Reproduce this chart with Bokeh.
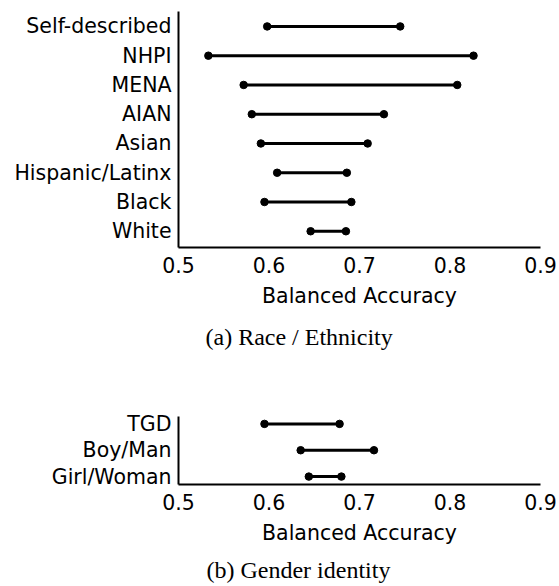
from bokeh.plotting import figure
from bokeh.layouts import column
from bokeh.models import FixedTicker, Range1d, ColumnDataSource, Title
from bokeh.embed import file_html
from bokeh.resources import INLINE

# ---- data ----
race_groups = ["White", "Black", "Hispanic/Latinx", "Asian", "AIAN", "MENA", "NHPI", "Self-described"]
race_low = [0.646, 0.595, 0.609, 0.591, 0.581, 0.572, 0.533, 0.598]
race_high = [0.685, 0.691, 0.686, 0.709, 0.727, 0.808, 0.826, 0.745]

gender_groups = ["Girl/Woman", "Boy/Man", "TGD"]
gender_low = [0.644, 0.635, 0.595]
gender_high = [0.680, 0.716, 0.678]

x_ticks = [0.5, 0.6, 0.7, 0.8, 0.9]
x_label = "Balanced Accuracy"
caption_a = "(a) Race / Ethnicity"
caption_b = "(b) Gender identity"

SANS = "DejaVu Sans"
SERIF = "Liberation Serif"
FS = "20.5px"


def caption_title(text, offset, standoff):
    return Title(text=text, align="left", offset=offset, standoff=standoff,
                 text_font=SERIF, text_font_size="24px", text_font_style="normal",
                 text_color="black")


def make_panel(groups, low, high, height, border_top, border_left,
               border_bottom, y_pad_lo, y_pad_hi):
    pos = list(range(len(groups)))
    src = ColumnDataSource(dict(pos=pos, low=low, high=high))
    p = figure(width=559, height=height, output_backend="svg", toolbar_location=None,
               x_range=Range1d(0.5, 0.9),
               y_range=Range1d(-y_pad_lo, len(groups) - 1 + y_pad_hi),
               min_border_top=border_top, min_border_left=border_left,
               min_border_right=19, min_border_bottom=border_bottom)
    p.outline_line_color = None
    p.grid.visible = False
    p.background_fill_color = "white"
    p.border_fill_color = "white"

    p.segment(x0="low", y0="pos", x1="high", y1="pos", source=src,
              line_color="black", line_width=3)
    p.scatter(x="low", y="pos", source=src, size=7.5, color="black")
    p.scatter(x="high", y="pos", source=src, size=7.5, color="black")

    # x axis
    xa = p.xaxis[0]
    xa.ticker = FixedTicker(ticks=x_ticks)
    xa.major_tick_out = 0
    xa.major_tick_in = 0
    xa.minor_tick_out = 0
    xa.minor_tick_in = 0
    xa.axis_line_width = 2
    xa.axis_line_color = "black"
    xa.major_label_text_font = SANS
    xa.major_label_text_font_size = FS
    xa.major_label_text_color = "black"
    xa.major_label_standoff = 9
    xa.axis_label = x_label
    xa.axis_label_text_font = SANS
    xa.axis_label_text_font_size = FS
    xa.axis_label_text_font_style = "normal"
    xa.axis_label_text_color = "black"
    xa.axis_label_standoff = 8

    # y axis
    ya = p.yaxis[0]
    ya.ticker = FixedTicker(ticks=pos)
    ya.major_label_overrides = {i: g for i, g in zip(pos, groups)}
    ya.major_tick_out = 0
    ya.major_tick_in = 0
    ya.minor_tick_out = 0
    ya.minor_tick_in = 0
    ya.axis_line_width = 2
    ya.axis_line_color = "black"
    ya.major_label_text_font = SANS
    ya.major_label_text_font_size = FS
    ya.major_label_text_color = "black"
    ya.major_label_standoff = 7
    return p


p1 = make_panel(race_groups, race_low, race_high,
                height=360, border_top=11, border_left=176, border_bottom=112,
                y_pad_lo=0.555, y_pad_hi=0.51)
p1.add_layout(caption_title(caption_a, 27, 22), "below")

p2 = make_panel(gender_groups, gender_low, gender_high,
                height=194, border_top=56, border_left=178, border_bottom=70,
                y_pad_lo=0.30, y_pad_hi=0.28)

# caption strip for panel (b)
p3 = figure(width=559, height=32, output_backend="svg", toolbar_location=None,
            x_axis_type=None, y_axis_type=None,
            min_border_top=0, min_border_bottom=0, min_border_left=178, min_border_right=19)
p3.outline_line_color = None
p3.grid.visible = False
p3.border_fill_color = "white"
p3.background_fill_color = "white"
p3.add_layout(caption_title(caption_b, 28, 0), "above")

layout = column(p1, p2, p3, spacing=0)
open("out.html", "w").write(file_html(layout, INLINE))
